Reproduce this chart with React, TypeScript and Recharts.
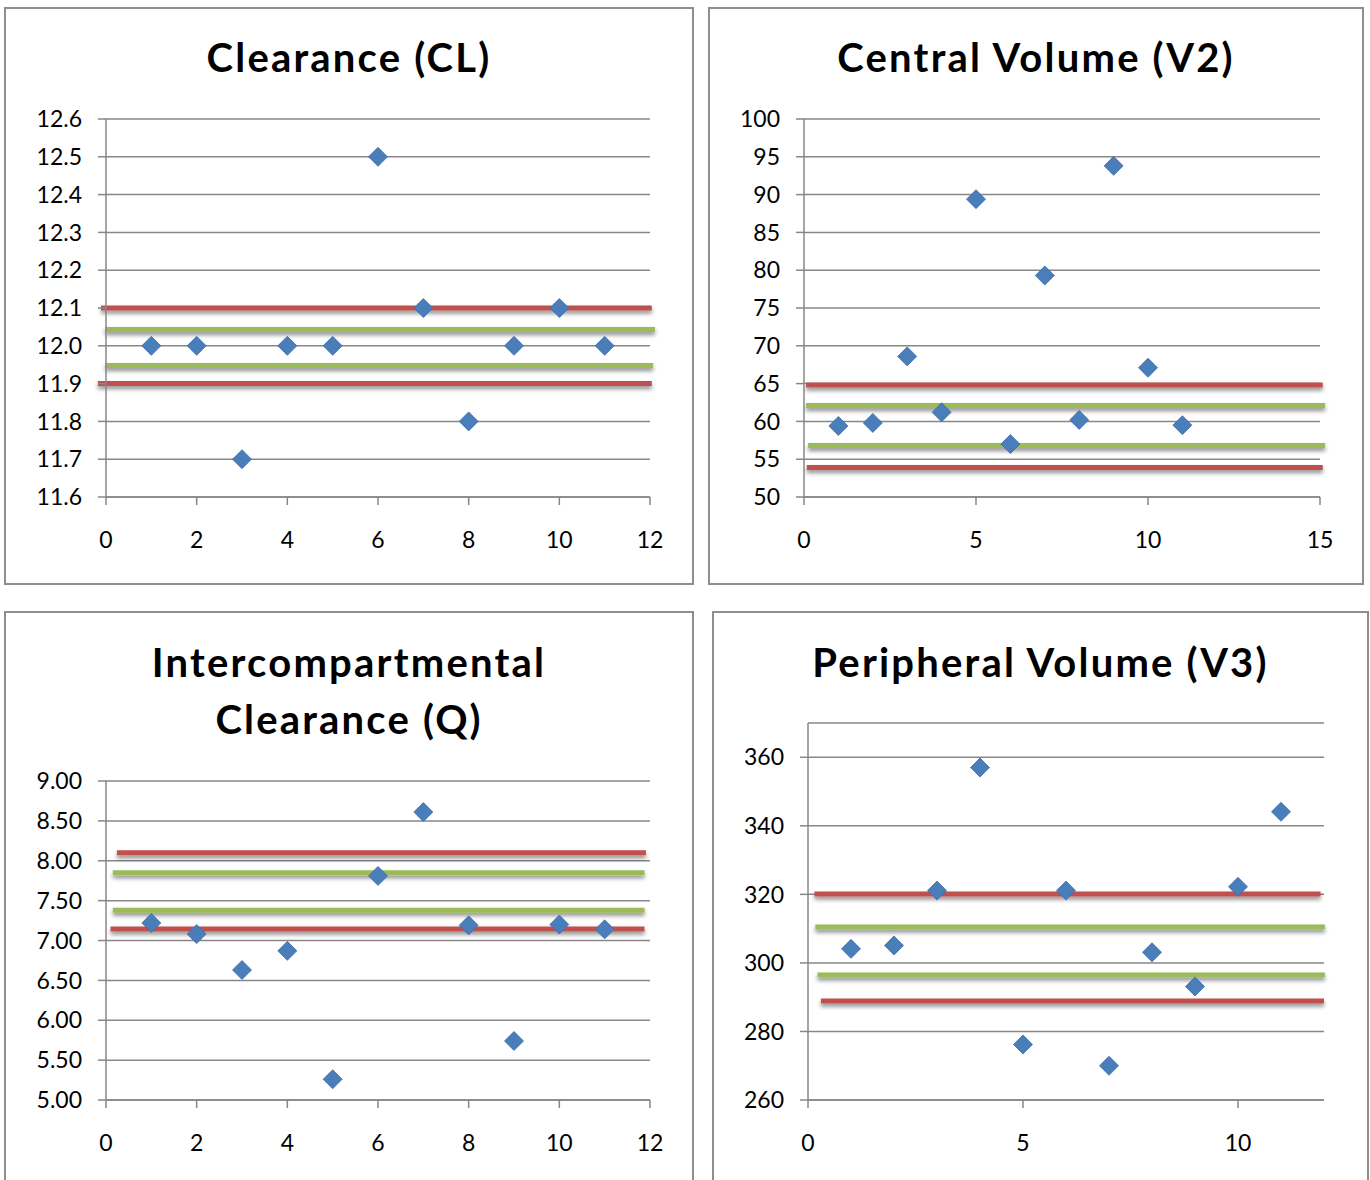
import React from 'react';
import { ScatterChart, Scatter, XAxis, YAxis, CartesianGrid, ReferenceLine } from 'recharts';

// subject index on the x axis
const subjects = [1, 2, 3, 4, 5, 6, 7, 8, 9, 10, 11];

// parameter estimates per subject
const clValues = [12.0, 12.0, 11.7, 12.0, 12.0, 12.5, 12.1, 11.8, 12.0, 12.1, 12.0];
const v2Values = [59.4, 59.8, 68.6, 61.2, 89.4, 57.0, 79.3, 60.2, 93.8, 67.1, 59.5];
const qValues = [7.22, 7.08, 6.63, 6.87, 5.26, 7.81, 8.61, 7.19, 5.74, 7.2, 7.14];
const v3Values = [304.1, 305.1, 321.1, 357.0, 276.2, 321.1, 270.0, 303.1, 293.1, 322.2, 344.1];

// tick labels
const clTicks = [11.6, 11.7, 11.8, 11.9, 12.0, 12.1, 12.2, 12.3, 12.4, 12.5, 12.6];
const v2Ticks = [50, 55, 60, 65, 70, 75, 80, 85, 90, 95, 100];
const qTicks = [5.0, 5.5, 6.0, 6.5, 7.0, 7.5, 8.0, 8.5, 9.0];
const v3Ticks = [260, 280, 300, 320, 340, 360];
const xTicks12 = [0, 2, 4, 6, 8, 10, 12];
const xTicks15 = [0, 5, 10, 15];
const xTicks5 = [0, 5, 10];

// limit bands: outer (red) and inner (green), with the x span each line covers
type Limit = { y: number; from: number; to: number; kind: 'outer' | 'inner' };
const clLimits: Limit[] = [
  { y: 12.1, from: -0.11, to: 12.04, kind: 'outer' },
  { y: 12.043, from: -0.02, to: 12.11, kind: 'inner' },
  { y: 11.948, from: -0.02, to: 12.07, kind: 'inner' },
  { y: 11.9, from: -0.18, to: 12.04, kind: 'outer' },
];
const v2Limits: Limit[] = [
  { y: 64.8, from: 0.06, to: 15.08, kind: 'outer' },
  { y: 62.1, from: 0.06, to: 15.15, kind: 'inner' },
  { y: 56.8, from: 0.12, to: 15.15, kind: 'inner' },
  { y: 53.9, from: 0.08, to: 15.08, kind: 'outer' },
];
const qLimits: Limit[] = [
  { y: 8.1, from: 0.24, to: 11.91, kind: 'outer' },
  { y: 7.85, from: 0.15, to: 11.88, kind: 'inner' },
  { y: 7.38, from: 0.15, to: 11.88, kind: 'inner' },
  { y: 7.145, from: 0.1, to: 11.88, kind: 'outer' },
];
const v3Limits: Limit[] = [
  { y: 320.1, from: 0.15, to: 11.92, kind: 'outer' },
  { y: 310.5, from: 0.17, to: 12.02, kind: 'inner' },
  { y: 296.5, from: 0.22, to: 12.02, kind: 'inner' },
  { y: 288.9, from: 0.3, to: 12.0, kind: 'outer' },
];

const FONT = 'Lato, "Open Sans", sans-serif';
const GRID = '#878787';
const BLUE = '#4A7EBB';
const limitColor = { outer: '#C0504D', inner: '#9BBB59' };

const Diamond = ({ cx, cy }: { cx?: number; cy?: number }) => {
  if (cx == null || cy == null) return null;
  const r = 9.5;
  return (
    <path
      d={`M${cx},${cy - r}L${cx + r},${cy}L${cx},${cy + r}L${cx - r},${cy}Z`}
      fill={BLUE}
      stroke="#3D6CA6"
      strokeWidth={0.8}
    />
  );
};

const LimitLine = (p: any) => (
  <line
    x1={p.x1}
    y1={p.y1}
    x2={p.x2}
    y2={p.y2}
    stroke={p.stroke}
    strokeWidth={5}
    filter="url(#limitShadow)"
  />
);

type Box = { x: number; y: number; w: number; h: number };
type Plot = { left: number; top: number; right: number; bottom: number };

type PanelProps = {
  title: string[];
  titleTop: number;
  box: Box;
  plot: Plot;
  values: number[];
  limits: Limit[];
  xDomain: [number, number];
  xTicks: number[];
  yDomain: [number, number];
  yTicks: number[];
  digits: number;
};

const Panel = ({ title, titleTop, box, plot, values, limits, xDomain, xTicks, yDomain, yTicks, digits }: PanelProps) => {
  const ox = box.x + 2;
  const oy = box.y + 2;
  const w = box.w - 4;
  const h = box.h - 4;
  const yAxisW = 80;
  const xAxisH = 50;
  const margin = {
    left: plot.left - ox - yAxisW,
    top: plot.top - oy,
    right: w - (plot.right - ox),
    bottom: h - (plot.bottom - oy) - xAxisH,
  };
  const data = subjects.map((x, i) => ({ x, y: values[i] }));
  const tickStyle = { fill: '#000', fontSize: 23, fontFamily: FONT };
  const lineStyle = { stroke: GRID, strokeWidth: 1.5 };

  return (
    <div
      style={{
        position: 'absolute',
        left: box.x,
        top: box.y,
        width: box.w,
        height: box.h,
        border: '2px solid #8E8E8E',
        boxSizing: 'border-box',
        background: '#fff',
      }}
    >
      <div
        style={{
          position: 'absolute',
          left: 0,
          right: 0,
          top: titleTop - oy,
          textAlign: 'center',
          fontFamily: FONT,
          fontWeight: 700,
          fontSize: 40,
          letterSpacing: '2.2px',
          lineHeight: '57px',
          color: '#000',
          zIndex: 1,
        }}
      >
        {title.map((t) => (
          <div key={t}>{t}</div>
        ))}
      </div>
      <div style={{ position: 'absolute', left: 0, top: 0 }}>
        <ScatterChart width={w} height={h} margin={margin}>
          <CartesianGrid horizontal vertical={false} stroke={GRID} strokeWidth={1.5} />
          <XAxis
            type="number"
            dataKey="x"
            domain={xDomain}
            ticks={xTicks}
            height={xAxisH}
            tickSize={8}
            tickMargin={27}
            axisLine={lineStyle}
            tickLine={lineStyle}
            tick={tickStyle}
            interval={0}
          />
          <YAxis
            type="number"
            dataKey="y"
            domain={yDomain}
            ticks={yTicks}
            width={yAxisW}
            tickSize={8}
            tickMargin={16}
            axisLine={lineStyle}
            tickLine={lineStyle}
            tick={tickStyle}
            interval={0}
            tickFormatter={(v: number) => v.toFixed(digits)}
          />
          <Scatter
            data={data}
            fill={BLUE}
            isAnimationActive={false}
            shape={(p: any) => <Diamond cx={p.cx} cy={p.cy} />}
          />
          {limits.map((l, i) => (
            <ReferenceLine
              key={i}
              segment={[
                { x: l.from, y: l.y },
                { x: l.to, y: l.y },
              ]}
              stroke={limitColor[l.kind]}
              ifOverflow="visible"
              shape={LimitLine}
            />
          ))}
        </ScatterChart>
      </div>
    </div>
  );
};

export default function App() {
  return (
    <div
      style={{
        position: 'absolute',
        left: 0,
        top: 0,
        width: 1370,
        height: 1180,
        overflow: 'hidden',
        background: '#fff',
      }}
    >
      <svg width={0} height={0} style={{ position: 'absolute' }}>
        <defs>
          <filter id="limitShadow" filterUnits="userSpaceOnUse" x={-100} y={-100} width={2000} height={2000}>
            <feDropShadow dx={0} dy={3} stdDeviation={2} floodColor="#000" floodOpacity={0.45} />
          </filter>
        </defs>
      </svg>
      <Panel
        title={['Clearance (CL)']}
        titleTop={29}
        box={{ x: 4, y: 7, w: 690, h: 578 }}
        plot={{ left: 106, top: 119, right: 650, bottom: 497 }}
        values={clValues}
        limits={clLimits}
        xDomain={[0, 12]}
        xTicks={xTicks12}
        yDomain={[11.6, 12.6]}
        yTicks={clTicks}
        digits={1}
      />
      <Panel
        title={['Central Volume (V2)']}
        titleTop={29}
        box={{ x: 708, y: 7, w: 656, h: 578 }}
        plot={{ left: 804, top: 119, right: 1320, bottom: 497 }}
        values={v2Values}
        limits={v2Limits}
        xDomain={[0, 15]}
        xTicks={xTicks15}
        yDomain={[50, 100]}
        yTicks={v2Ticks}
        digits={0}
      />
      <Panel
        title={['Intercompartmental', 'Clearance (Q)']}
        titleTop={634}
        box={{ x: 4, y: 611, w: 690, h: 576 }}
        plot={{ left: 106, top: 781, right: 650, bottom: 1100 }}
        values={qValues}
        limits={qLimits}
        xDomain={[0, 12]}
        xTicks={xTicks12}
        yDomain={[5, 9]}
        yTicks={qTicks}
        digits={2}
      />
      <Panel
        title={['Peripheral Volume (V3)']}
        titleTop={634}
        box={{ x: 712, y: 611, w: 657, h: 576 }}
        plot={{ left: 808, top: 723, right: 1324, bottom: 1100 }}
        values={v3Values}
        limits={v3Limits}
        xDomain={[0, 12]}
        xTicks={xTicks5}
        yDomain={[260, 370]}
        yTicks={v3Ticks}
        digits={0}
      />
    </div>
  );
}
